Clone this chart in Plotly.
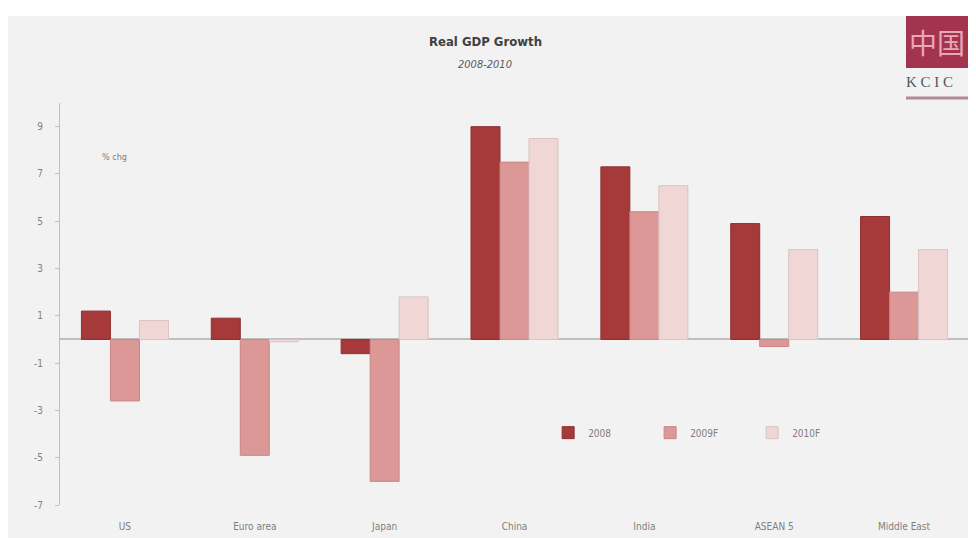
import plotly.graph_objects as go

categories = ["US", "Euro area", "Japan", "China", "India", "ASEAN 5", "Middle East"]
series_names = ["2008", "2009F", "2010F"]
gdp_2008 = [1.2, 0.9, -0.6, 9.0, 7.3, 4.9, 5.2]
gdp_2009f = [-2.6, -4.9, -6.0, 7.5, 5.4, -0.3, 2.0]
gdp_2010f = [0.8, -0.1, 1.8, 8.5, 6.5, 3.8, 3.8]
y_ticks = [-7, -5, -3, -1, 1, 3, 5, 7, 9]

fill_colors = ["#a63a3b", "#db9896", "#f1d6d6"]
line_colors = ["#8e2f30", "#c98684", "#d9c3c3"]

font_family = "Liberation Sans Narrow, DejaVu Sans Condensed, Liberation Sans, sans-serif"

fig = go.Figure()
for name, vals, fc, lc in zip(series_names, [gdp_2008, gdp_2009f, gdp_2010f], fill_colors, line_colors):
    fig.add_trace(go.Bar(
        x=categories, y=vals, name=name,
        marker=dict(color=fc, line=dict(color=lc, width=1)),
    ))

fig.update_layout(
    width=968, height=530,
    margin=dict(l=52, r=7, t=95, b=33),
    paper_bgcolor="#f2f2f2",
    plot_bgcolor="#f2f2f2",
    barmode="group",
    bargap=0.33,
    bargroupgap=0.0,
    font=dict(family=font_family, size=10, color="#7f7f7f"),
    showlegend=True,
    legend=dict(
        orientation="h", x=0.537, y=0.18, xanchor="left", yanchor="middle",
        bgcolor="rgba(0,0,0,0)", font=dict(size=10, color="#7f7f7f"),
        entrywidth=57, entrywidthmode="pixels", traceorder="normal",
    ),
    xaxis=dict(
        showline=False, showgrid=False, ticks="", ticklabelstandoff=14,
        tickfont=dict(size=10, color="#7f7f7f"),
    ),
    yaxis=dict(
        range=[-7, 10], tickvals=y_ticks, ticktext=[str(v) for v in y_ticks],
        showgrid=False, showline=True, linecolor="#bfbfbf", linewidth=1,
        ticks="outside", ticklen=4, tickcolor="#bfbfbf", ticklabelstandoff=10,
        zeroline=True, zerolinecolor="#bfbfbf", zerolinewidth=1.5,
        tickfont=dict(size=10, color="#7f7f7f"),
    ),
    shapes=[
        dict(type="rect", xref="paper", yref="paper", x0=-0.1, x1=1.1, y0=1.2164, y1=1.3,
             fillcolor="white", line=dict(width=0), layer="below"),
        dict(type="rect", xref="paper", yref="paper", x0=0.9307, x1=1.01, y0=1.0871, y1=1.2164,
             fillcolor="#a3344f", line=dict(width=0)),
        dict(type="line", xref="paper", yref="paper", x0=0.9307, x1=1.01, y0=1.0124, y1=1.0124,
             line=dict(color="#b58a96", width=3)),
    ],
    annotations=[
        dict(text="<b>Real GDP Growth</b>", xref="paper", yref="paper", x=0.468, y=1.152,
             xanchor="center", yanchor="middle", showarrow=False,
             font=dict(size=13, color="#404040", family=font_family)),
        dict(text="<i>2008-2010</i>", xref="paper", yref="paper", x=0.468, y=1.097,
             xanchor="center", yanchor="middle", showarrow=False,
             font=dict(size=11, color="#595959", family=font_family)),
        dict(text="% chg", xref="paper", yref="paper", x=0.044, y=0.865,
             xanchor="left", yanchor="middle", showarrow=False,
             font=dict(size=9, color="#7f7f7f", family=font_family)),
        dict(text="中国", xref="paper", yref="paper", x=0.9315, y=1.152,
             xanchor="left", yanchor="middle", showarrow=False,
             font=dict(size=28, color="#e9a6b6", family="Noto Sans CJK SC")),
        dict(text="K C I C", xref="paper", yref="paper", x=0.9285, y=1.052,
             xanchor="left", yanchor="middle", showarrow=False,
             font=dict(size=15, color="#555555", family="Liberation Serif, serif")),
    ],
)

fig.write_html("out.html")
